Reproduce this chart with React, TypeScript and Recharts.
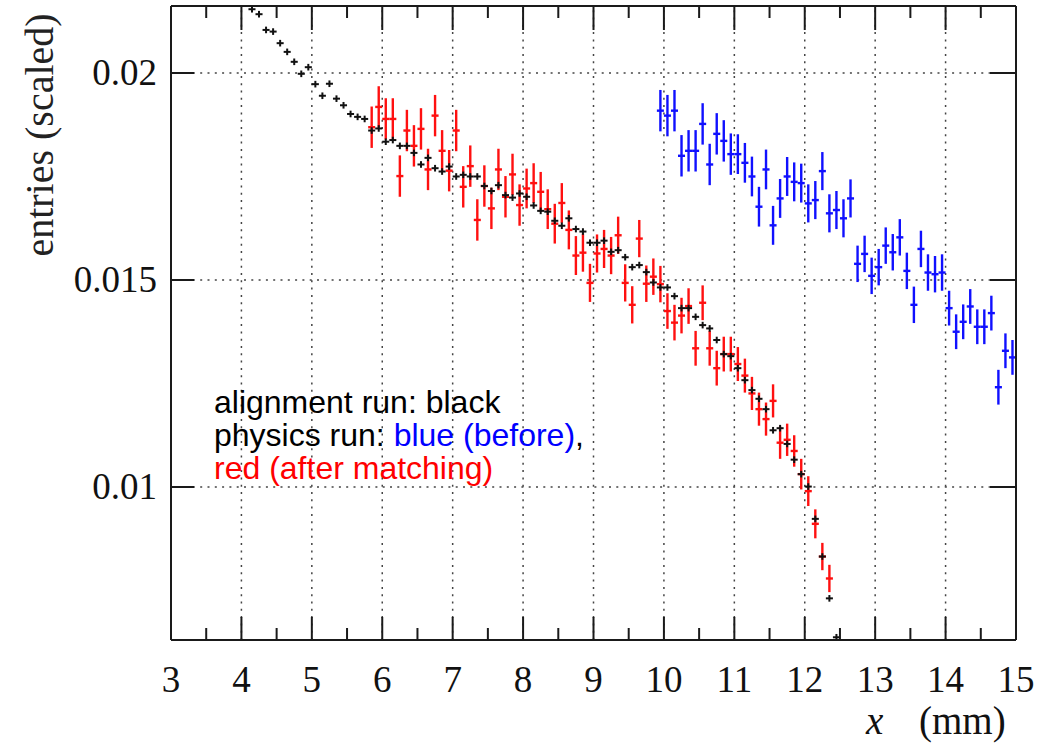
import React from "react";
import { ErrorBar, ReferenceLine, Scatter, ScatterChart, XAxis, YAxis } from "recharts";

// bin centres (mm) and scaled entries per run
const blackX = [
  4.15, 4.25, 4.35, 4.45, 4.55, 4.65, 4.75, 4.85, 4.95,
  5.05, 5.15, 5.25, 5.35, 5.45, 5.55, 5.65, 5.75, 5.85, 5.95,
  6.05, 6.15, 6.25, 6.35, 6.45, 6.55, 6.65, 6.75, 6.85, 6.95,
  7.05, 7.15, 7.25, 7.35, 7.45, 7.55, 7.65, 7.75, 7.85, 7.95,
  8.05, 8.15, 8.25, 8.35, 8.45, 8.55, 8.65, 8.75, 8.85, 8.95,
  9.05, 9.15, 9.25, 9.35, 9.45, 9.55, 9.65, 9.75, 9.85, 9.95,
  10.05, 10.15, 10.25, 10.35, 10.45, 10.55, 10.65, 10.75, 10.85, 10.95,
  11.05, 11.15, 11.25, 11.35, 11.45, 11.55, 11.65, 11.75, 11.85, 11.95,
  12.05, 12.15, 12.25, 12.35, 12.45,
];
const blackY = [
  0.02154, 0.02142, 0.02104, 0.021, 0.02072, 0.02051, 0.02027, 0.01998, 0.02014,
  0.01973, 0.01945, 0.01974, 0.01938, 0.01922, 0.01901, 0.01894, 0.01889, 0.01861, 0.01866,
  0.01834, 0.01838, 0.01824, 0.01824, 0.01807, 0.01779, 0.01795, 0.0177, 0.01762, 0.01774,
  0.0175, 0.01754, 0.0175, 0.0175, 0.01727, 0.01715, 0.01729, 0.01705, 0.01699, 0.01709,
  0.01701, 0.0168, 0.01667, 0.01665, 0.01643, 0.01631, 0.01649, 0.01623, 0.01617, 0.0159,
  0.0159, 0.01595, 0.01568, 0.01572, 0.01555, 0.01531, 0.01536, 0.01519, 0.01494, 0.01482,
  0.01482, 0.01461, 0.01432, 0.01432, 0.01411, 0.01391, 0.01383, 0.01355, 0.01321, 0.01316,
  0.01287, 0.01258, 0.01234, 0.01213, 0.01188, 0.01137, 0.01142, 0.01104, 0.01066, 0.01031,
  0.01001, 0.00923, 0.00832, 0.00731, 0.00637,
];
const blackErr = 0.00008;

const redX = [
  5.85, 5.95,
  6.05, 6.15, 6.25, 6.35, 6.45, 6.55, 6.65, 6.75, 6.85, 6.95,
  7.05, 7.15, 7.25, 7.35, 7.45, 7.55, 7.65, 7.75, 7.85, 7.95,
  8.05, 8.15, 8.25, 8.35, 8.45, 8.55, 8.65, 8.75, 8.85, 8.95,
  9.05, 9.15, 9.25, 9.35, 9.45, 9.55, 9.65, 9.75, 9.85, 9.95,
  10.05, 10.15, 10.25, 10.35, 10.45, 10.55, 10.65, 10.75, 10.85, 10.95,
  11.05, 11.15, 11.25, 11.35, 11.45, 11.55, 11.65, 11.75, 11.85, 11.95,
  12.05, 12.15, 12.25, 12.35,
];
const redY = [
  0.01869, 0.01918,
  0.01889, 0.01889, 0.01751, 0.01861, 0.01824, 0.01865, 0.01767, 0.01897, 0.01812, 0.01764,
  0.01861, 0.01725, 0.01775, 0.01645, 0.01727, 0.01673, 0.01767, 0.01701, 0.01755, 0.01681,
  0.01721, 0.01734, 0.01713, 0.01671, 0.01636, 0.01686, 0.01621, 0.01559, 0.01566, 0.01493,
  0.01564, 0.01575, 0.01559, 0.01608, 0.01493, 0.0144, 0.016, 0.01491, 0.01508, 0.0149,
  0.01425, 0.01397, 0.01414, 0.01437, 0.01335, 0.01445, 0.01335, 0.01287, 0.01321, 0.01321,
  0.01297, 0.01269, 0.01226, 0.01188, 0.01164, 0.01208, 0.01107, 0.01114, 0.01087, 0.01031,
  0.0099, 0.00911, 0.00832, 0.00779,
];
const redErr = [
  0.0005, 0.0005,
  0.0005, 0.0005, 0.0005, 0.0005, 0.0005, 0.0005, 0.0005, 0.0005, 0.0005, 0.0005,
  0.0005, 0.0005, 0.0005, 0.0005, 0.0005, 0.0005, 0.0005, 0.0005, 0.0005, 0.0005,
  0.00048, 0.00048, 0.00048, 0.00048, 0.00048, 0.00048, 0.00047, 0.00047, 0.00046, 0.00046,
  0.00046, 0.00046, 0.00045, 0.00045, 0.00045, 0.00045, 0.00045, 0.00044, 0.00044, 0.00044,
  0.00043, 0.00043, 0.00043, 0.00043, 0.00042, 0.00042, 0.00042, 0.00042, 0.00042, 0.00042,
  0.00041, 0.00041, 0.0004, 0.0004, 0.0004, 0.0004, 0.00039, 0.00039, 0.00038, 0.00037,
  0.00036, 0.00035, 0.00033, 0.00033,
];

const blueX = [
  9.95,
  10.05, 10.15, 10.25, 10.35, 10.45, 10.55, 10.65, 10.75, 10.85, 10.95,
  11.05, 11.15, 11.25, 11.35, 11.45, 11.55, 11.65, 11.75, 11.85, 11.95,
  12.05, 12.15, 12.25, 12.35, 12.45, 12.55, 12.65, 12.75, 12.85, 12.95,
  13.05, 13.15, 13.25, 13.35, 13.45, 13.55, 13.65, 13.75, 13.85, 13.95,
  14.05, 14.15, 14.25, 14.35, 14.45, 14.55, 14.65, 14.75, 14.85, 14.95,
];
const blueY = [
  0.01909,
  0.01897, 0.01909, 0.018, 0.01812, 0.01812, 0.01877, 0.01779, 0.01853, 0.01836, 0.01804,
  0.01804, 0.01783, 0.0175, 0.01677, 0.01767, 0.01632, 0.01697, 0.0175, 0.01737, 0.01734,
  0.01685, 0.01693, 0.01763, 0.01661, 0.01669, 0.01649, 0.01697, 0.01539, 0.01563, 0.0151,
  0.01531, 0.01583, 0.01567, 0.01603, 0.01522, 0.0144, 0.01575, 0.01518, 0.01514, 0.01518,
  0.01432, 0.01375, 0.01399, 0.01436, 0.01387, 0.01387, 0.0142, 0.01241, 0.01329, 0.01313,
];
const blueErr = [
  0.0005,
  0.0005, 0.0005, 0.0005, 0.0005, 0.0005, 0.0005, 0.0005, 0.0005, 0.0005, 0.0005,
  0.00048, 0.00048, 0.00048, 0.00048, 0.00048, 0.00047, 0.00047, 0.00047, 0.00047, 0.00047,
  0.00046, 0.00046, 0.00046, 0.00046, 0.00046, 0.00046, 0.00046, 0.00044, 0.00044, 0.00044,
  0.00044, 0.00044, 0.00044, 0.00044, 0.00044, 0.00044, 0.00044, 0.00044, 0.00044, 0.00044,
  0.00042, 0.00042, 0.00042, 0.00042, 0.00042, 0.00042, 0.00042, 0.00042, 0.00042, 0.00042,
];

// half of the 0.1 mm bin width
const binHalf = 0.05;

const xMajorTicks = [3, 4, 5, 6, 7, 8, 9, 10, 11, 12, 13, 14, 15];
const xMinorTicks = [3.5, 4.5, 5.5, 6.5, 7.5, 8.5, 9.5, 10.5, 11.5, 12.5, 13.5, 14.5];
const yTicks = [0.01, 0.015, 0.02];
const yTickLabels = ["0.01", "0.015", "0.02"];
const xGrid = [4, 5, 6, 7, 8, 9, 10, 11, 12, 13, 14];

const X_DOMAIN: [number, number] = [3, 15];
const Y_DOMAIN: [number, number] = [0.006304, 0.021618];

const W = 1053;
const H = 745;
const MARGIN = { top: 0, right: 36, bottom: 0, left: 0 };
const Y_AXIS_W = 171;
const Y_AXIS_R_W = 1;
const TOP_AXIS_H = 6;
const PLOT_TOP = MARGIN.top + TOP_AXIS_H;
const PLOT_LEFT = MARGIN.left + Y_AXIS_W;
const PLOT_RIGHT = W - MARGIN.right - Y_AXIS_R_W;
const SERIF = "'Liberation Serif', 'Times New Roman', serif";
const SANS = "'Liberation Sans', Arial, sans-serif";
const FRAME = "#1a1a1a";

const toRows = (xs: number[], ys: number[], err: number[] | number) =>
  xs.map((x, i) => ({
    x,
    y: ys[i],
    ex: binHalf,
    ey: Array.isArray(err) ? err[i] : err,
  }));

const blackRows = toRows(blackX, blackY, blackErr);
const redRows = toRows(redX, redY, redErr);
const blueRows = toRows(blueX, blueY, blueErr);

const allXTicks = [...xMajorTicks, ...xMinorTicks].sort((a, b) => a - b);

const isMajor = (v: number) => xMajorTicks.includes(v);

// same linear map the x axis uses, for the frame ticks along the top edge
const xToPx = (v: number) =>
  PLOT_LEFT + ((v - X_DOMAIN[0]) / (X_DOMAIN[1] - X_DOMAIN[0])) * (PLOT_RIGHT - PLOT_LEFT);

function XTick(props: any) {
  const { x, y, payload } = props;
  const major = isMajor(payload.value);
  return (
    <g>
      <line x1={x} x2={x} y1={y} y2={y - (major ? 23 : 12)} stroke={FRAME} strokeWidth={2} />
      {major ? (
        <text x={x} y={y + 52} textAnchor="middle" fontFamily={SERIF} fontSize={37} fill="#111">
          {payload.value}
        </text>
      ) : null}
    </g>
  );
}

function LeftTick(props: any) {
  const { x, y, payload, index } = props;
  return (
    <g>
      <line x1={x} x2={x + 23} y1={y} y2={y} stroke={FRAME} strokeWidth={2} />
      <text x={x - 14} y={y + 12} textAnchor="end" fontFamily={SERIF} fontSize={37} fill="#111">
        {yTickLabels[index] ?? payload.value}
      </text>
    </g>
  );
}

function RightTick(props: any) {
  const { x, y } = props;
  return <line x1={x} x2={x - 26} y1={y} y2={y} stroke={FRAME} strokeWidth={2} />;
}

const noMarker = () => <g />;

export default function App() {
  return (
    <div style={{ position: "absolute", left: 0, top: 0, width: W, height: H, background: "#fff" }}>
      <ScatterChart width={W} height={H} margin={MARGIN}>
        <XAxis
          xAxisId="x"
          dataKey="x"
          type="number"
          domain={X_DOMAIN}
          allowDataOverflow
          ticks={allXTicks}
          interval={0}
          height={105}
          tickSize={0}
          tickMargin={0}
          tick={<XTick />}
          axisLine={{ stroke: FRAME, strokeWidth: 2 }}
        />
        <XAxis
          xAxisId="xt"
          dataKey="x"
          orientation="top"
          type="number"
          domain={X_DOMAIN}
          allowDataOverflow
          height={TOP_AXIS_H}
          tick={false}
          tickLine={false}
          axisLine={{ stroke: FRAME, strokeWidth: 2 }}
        />
        <YAxis
          yAxisId="y"
          dataKey="y"
          type="number"
          domain={Y_DOMAIN}
          allowDataOverflow
          ticks={yTicks}
          interval={0}
          width={Y_AXIS_W}
          tickSize={0}
          tickMargin={0}
          tick={<LeftTick />}
          axisLine={{ stroke: FRAME, strokeWidth: 2 }}
        />
        <YAxis
          yAxisId="yr"
          orientation="right"
          type="number"
          domain={Y_DOMAIN}
          allowDataOverflow
          ticks={yTicks}
          interval={0}
          width={Y_AXIS_R_W}
          tickSize={0}
          tickMargin={0}
          tick={<RightTick />}
          axisLine={{ stroke: FRAME, strokeWidth: 2 }}
        />

        {xGrid.map((v) => (
          <ReferenceLine
            key={`gx${v}`}
            xAxisId="x"
            yAxisId="y"
            x={v}
            stroke="#444"
            strokeWidth={1.5}
            strokeDasharray="2 5.3"
          />
        ))}
        {yTicks.map((v) => (
          <ReferenceLine
            key={`gy${v}`}
            xAxisId="x"
            yAxisId="y"
            y={v}
            stroke="#444"
            strokeWidth={1.5}
            strokeDasharray="2 5.3"
          />
        ))}

        <Scatter xAxisId="x" yAxisId="y" data={blueRows} shape={noMarker} isAnimationActive={false}>
          <ErrorBar dataKey="ex" direction="x" width={0} stroke="#1010ff" strokeWidth={2.4} isAnimationActive={false} />
          <ErrorBar dataKey="ey" direction="y" width={0} stroke="#1010ff" strokeWidth={2.4} isAnimationActive={false} />
        </Scatter>
        <Scatter xAxisId="x" yAxisId="y" data={redRows} shape={noMarker} isAnimationActive={false}>
          <ErrorBar dataKey="ex" direction="x" width={0} stroke="#ff1010" strokeWidth={2.4} isAnimationActive={false} />
          <ErrorBar dataKey="ey" direction="y" width={0} stroke="#ff1010" strokeWidth={2.4} isAnimationActive={false} />
        </Scatter>
        <Scatter xAxisId="x" yAxisId="y" data={blackRows} shape={noMarker} isAnimationActive={false}>
          <ErrorBar dataKey="ex" direction="x" width={0} stroke="#111" strokeWidth={2} isAnimationActive={false} />
          <ErrorBar dataKey="ey" direction="y" width={0} stroke="#111" strokeWidth={2} isAnimationActive={false} />
        </Scatter>
      </ScatterChart>

      <svg
        width={W}
        height={H}
        style={{ position: "absolute", left: 0, top: 0, pointerEvents: "none" }}
      >
        {allXTicks.map((v) => (
          <line
            key={`top${v}`}
            x1={xToPx(v)}
            x2={xToPx(v)}
            y1={PLOT_TOP}
            y2={PLOT_TOP + (isMajor(v) ? 24 : 12)}
            stroke={FRAME}
            strokeWidth={2}
          />
        ))}

        <text
          transform="rotate(-90)"
          x={-135}
          y={53}
          textAnchor="middle"
          fontFamily={SERIF}
          fontSize={40}
          fill="#222"
        >
          entries (scaled)
        </text>
        <text x={866} y={734} fontFamily={SERIF} fontSize={39} fontStyle="italic" fill="#111">
          x
        </text>
        <text x={919} y={734} fontFamily={SERIF} fontSize={39} fill="#111">
          (mm)
        </text>

        <g fontFamily={SANS} fontSize={32}>
          <text x={214} y={413} fill="#000">
            alignment run: black
          </text>
          <text x={214} y={446} fill="#000">
            physics run: <tspan fill="#0000ff">blue (before)</tspan>,
          </text>
          <text x={214} y={479} fill="#ff0000">
            red (after matching)
          </text>
        </g>
      </svg>
    </div>
  );
}
